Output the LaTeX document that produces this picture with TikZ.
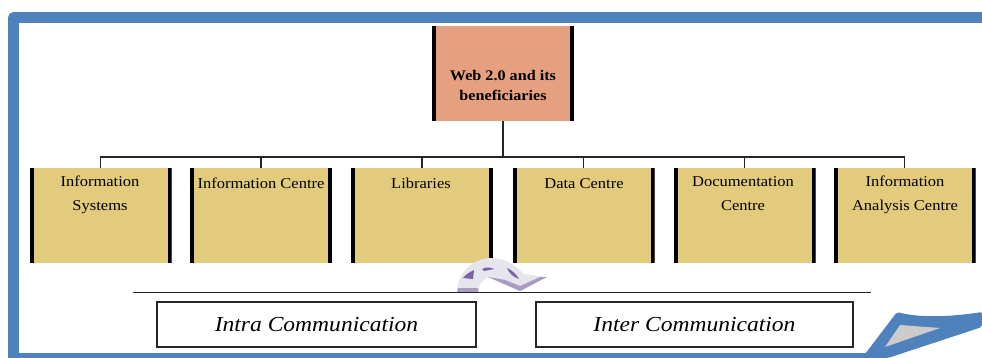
\documentclass[tikz,border=0pt]{standalone}
\usepackage{fontspec}
\setmainfont[FakeStretch=1.1]{Liberation Serif}
\usepackage{tikz}
\usetikzlibrary{positioning, calc}

\definecolor{framecol}{HTML}{4F81BD}
\definecolor{topcol}{HTML}{E5A080}
\definecolor{boxcol}{HTML}{E3CB7E}
\definecolor{foldcol}{HTML}{CCCCCC}
\definecolor{turncol}{HTML}{E6E4EC}
\definecolor{turndark}{HTML}{A89CC0}
\definecolor{turnmark}{HTML}{7A62A6}

\tikzset{
    barbox/.style={
        fill=#1, minimum width=142pt, minimum height=95pt, inner sep=0pt,
        path picture={
            \fill[black] (path picture bounding box.south west) rectangle ++(4pt,95pt);
            \fill[black] (path picture bounding box.south east) rectangle ++(-4pt,95pt);
        }
    },
    boxtext/.style={anchor=north, align=center, inner sep=0pt, font=\fontsize{15}{24}\selectfont},
    commbox/.style={draw=black!85, line width=1.3pt, fill=white, minimum height=45pt,
        inner sep=0pt, font=\fontsize{21.4}{24}\selectfont\itshape},
    wire/.style={black!85, line width=1.2pt}
}

\begin{document}
\begin{tikzpicture}[x=1pt,y=-1pt]
    \useasboundingbox (0,0) rectangle (982,358);
    \clip (0,0) rectangle (982,358);

    % outer frame
    \draw[framecol, line width=11pt, line join=round]
        (990,17.5) -- (13.5,17.5) -- (13.5,358.5) -- (880,358.5);

    % folded corner
    \fill[framecol, rounded corners=2pt]
        (862,358) -- (897,312) .. controls (920,318) and (950,317) .. (982,312)
        -- (982,327) -- (888,358) -- cycle;
    \fill[foldcol] (885,347) -- (900,325) -- (940,328) -- cycle;

    % top box
    \node[barbox=topcol] (web) at (503,73.5) {};
    \node[align=center, inner sep=0pt, font=\fontsize{14.7}{20}\selectfont\bfseries] (webtext) at (503,85)
        {Web 2.0 and its\\beneficiaries};

    % lower boxes
    \foreach \name/\cx in {
        info/100.5, centre/261, lib/422, data/583.5, doc/744.5, analysis/904.5}{
        \node[barbox=boxcol] (\name) at (\cx,215.5) {};
    }

    \node[boxtext] (infotext) at (100,176) {Information\\Systems};
    \node[boxtext] (centretext) at (261,178) {Information Centre};
    \node[boxtext] (libtext) at (421,178) {Libraries};
    \node[boxtext] (datatext) at (584,178) {Data Centre};
    \node[boxtext] (doctext) at (743,176) {Documentation\\Centre};
    \node[boxtext] (analysistext) at (905,176) {Information\\Analysis Centre};

    % connectors
    \coordinate (bus) at (503,157);
    \draw[wire] (web.south) -- (bus);
    \foreach \name in {info, centre, lib, data, doc, analysis}
    {
        \draw[wire] (bus) -| (\name.north);
    }

    % turning arrow
    \fill[turncol] (457,292) .. controls (458,270) and (475,258) .. (492,258)
        .. controls (505,258) and (515,265) .. (524,274) -- (547,277) -- (520,291)
        -- (488,277) .. controls (482,280) and (479,285) .. (478,292) -- cycle;
    \fill[turndark] (457,292) -- (458,288) -- (478,288) -- (478,292) -- cycle;
    \fill[turndark] (488,277) -- (505,280) -- (520,286) -- (540,277) -- (547,277) -- (520,291) -- cycle;
    \fill[turnmark] (463,278) .. controls (466,274) and (470,272) .. (474,270) -- (473,279) -- cycle;
    \fill[turnmark] (482,269) .. controls (486,267) and (490,267) .. (494,269) -- (484,271) -- cycle;
    \fill[turnmark] (507,268) .. controls (512,270) and (516,274) .. (519,279) .. controls (513,277) and (509,273) .. (507,268) -- cycle;

    % lower line and boxes
    \coordinate (rulestart) at (133,292.5);
    \coordinate (ruleend) at (871,292.5);
    \draw[wire] (rulestart) -- (ruleend);

    \node[commbox, minimum width=319pt] (intra) at (316.5,324.5) {Intra Communication};
    \node[commbox, minimum width=317pt] (inter) at (694.5,324.5) {Inter Communication};
\end{tikzpicture}
\end{document}
